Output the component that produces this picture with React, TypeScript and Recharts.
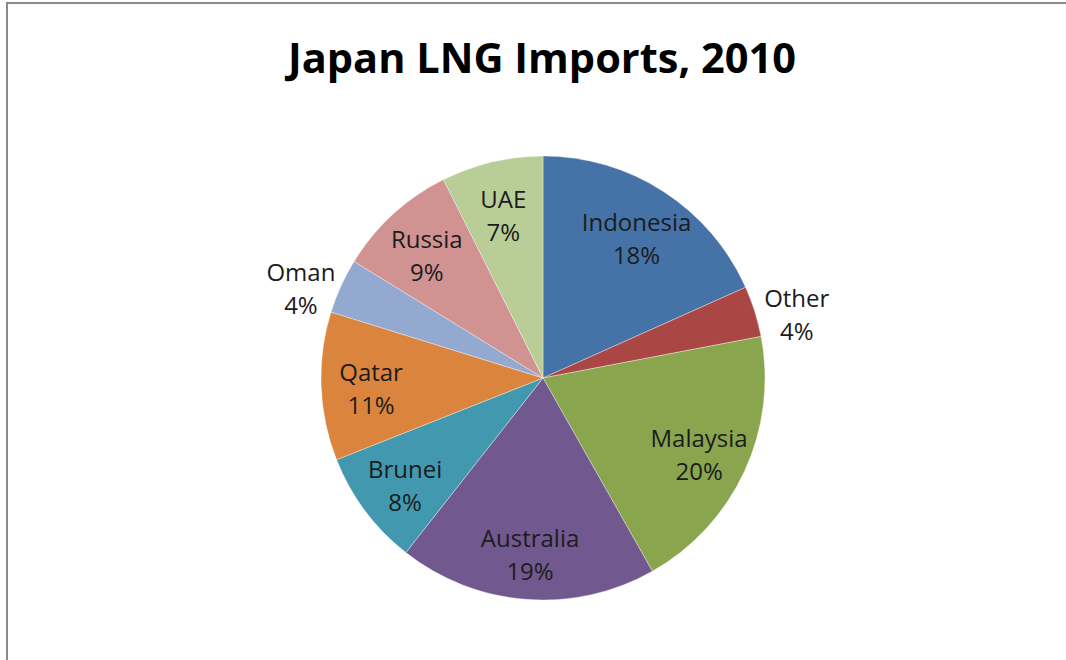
import React from "react";
import { PieChart, Pie, Cell } from "recharts";

const countries = ["Indonesia", "Other", "Malaysia", "Australia", "Brunei", "Qatar", "Oman", "Russia", "UAE"];
const shares = [18.3, 3.7, 19.8, 18.8, 8.4, 10.8, 4.0, 8.8, 7.4];
const colors = ["#4572A7", "#AA4643", "#89A54E", "#71588F", "#4198AF", "#DB843D", "#93A9CF", "#D19392", "#B9CD96"];
const titleText = "Japan LNG Imports, 2010";

const data = countries.map((name, i) => ({ name, value: shares[i] }));

const RAD = Math.PI / 180;
const FONT = "'Open Sans', sans-serif";

const renderLabel = (props: any) => {
  const { cx, cy, midAngle, outerRadius, percent, name } = props;
  const outside = percent < 0.05;
  const r = outside ? outerRadius + 44 : outerRadius * 0.775;
  const x = cx + r * Math.cos(-midAngle * RAD);
  const y = cy + r * Math.sin(-midAngle * RAD) * (outside ? 0.85 : 1);
  return (
    <text x={x} y={y} textAnchor="middle" fill="#1c1c1c" fontFamily={FONT} fontSize={24}>
      <tspan x={x} dy={-3}>{name}</tspan>
      <tspan x={x} dy={33}>{`${Math.round(percent * 100)}%`}</tspan>
    </text>
  );
};

export default function App() {
  return (
    <div style={{ position: "absolute", left: 0, top: 0, width: 1066, height: 660, background: "#fff", overflow: "hidden" }}>
      <style>{"body{margin:0}"}</style>
      <div style={{ position: "absolute", left: 6, top: 2, width: 1060, height: 2, background: "#8a8a8a" }} />
      <div style={{ position: "absolute", left: 6, top: 2, width: 2, height: 658, background: "#8a8a8a" }} />
      <svg width={1066} height={110} style={{ position: "absolute", left: 0, top: 0 }}>
        <text x={542} y={73} textAnchor="middle" fontFamily={FONT} fontWeight={700} fontSize={42} fill="#000" textLength={508} lengthAdjust="spacingAndGlyphs">
          {titleText}
        </text>
      </svg>
      <div style={{ position: "absolute", left: 0, top: 0 }}>
        <PieChart width={1066} height={660} margin={{ top: 0, right: 0, bottom: 0, left: 0 }}>
          <Pie
            data={data}
            dataKey="value"
            nameKey="name"
            cx={543}
            cy={378}
            outerRadius={222}
            startAngle={90}
            endAngle={-270}
            stroke="#ffffff"
            strokeOpacity={0.6}
            strokeWidth={0.6}
            label={renderLabel}
            labelLine={false}
            isAnimationActive={false}
          >
            {data.map((d, i) => (
              <Cell key={d.name} fill={colors[i]} />
            ))}
          </Pie>
        </PieChart>
      </div>
    </div>
  );
}
